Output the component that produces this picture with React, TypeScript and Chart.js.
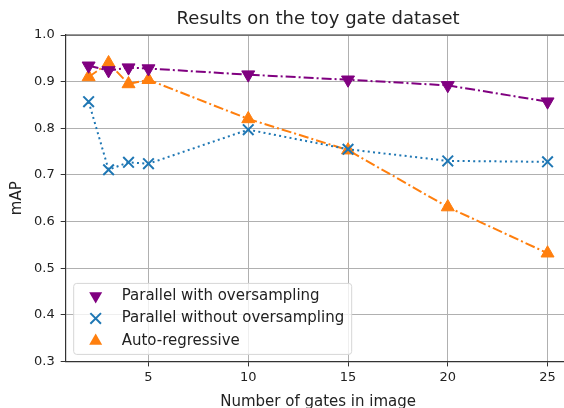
import React, { useEffect, useRef } from "react";
import { Chart, registerables } from "chart.js";

Chart.register(...registerables);

const gates = [2, 3, 4, 5, 10, 15, 20, 25];
const parallelWith = [0.934, 0.924, 0.930, 0.928, 0.915, 0.904, 0.892, 0.857];
const parallelWithout = [0.857, 0.711, 0.727, 0.724, 0.797, 0.755, 0.730, 0.728];
const autoRegressive = [0.910, 0.940, 0.895, 0.904, 0.820, 0.753, 0.631, 0.532];
const xTicks = [5, 10, 15, 20, 25];
const seriesNames = ["Parallel with oversampling", "Parallel without oversampling", "Auto-regressive"];
const chartTitle = "Results on the toy gate dataset";

const FONT = "'DejaVu Sans', sans-serif";
const TXT = "#222222";

function drawMarker(ctx: CanvasRenderingContext2D, style: string, rot: number, r: number, color: string, cx: number, cy: number) {
  ctx.save();
  ctx.fillStyle = color;
  ctx.strokeStyle = color;
  if (style === "triangle") {
    const base = (rot * Math.PI) / 180 - Math.PI / 2;
    ctx.beginPath();
    for (let k = 0; k < 3; k++) {
      const a = base + (k * 2 * Math.PI) / 3;
      const px = cx + Math.cos(a) * r;
      const py = cy + Math.sin(a) * r;
      if (k === 0) ctx.moveTo(px, py);
      else ctx.lineTo(px, py);
    }
    ctx.closePath();
    ctx.fill();
  } else {
    const d = r * 0.707;
    ctx.lineWidth = 2;
    ctx.beginPath();
    ctx.moveTo(cx - d, cy - d);
    ctx.lineTo(cx + d, cy + d);
    ctx.moveTo(cx - d, cy + d);
    ctx.lineTo(cx + d, cy - d);
    ctx.stroke();
  }
  ctx.restore();
}

const framePlugin = {
  id: "frameAndTitle",
  afterDraw(chart: any) {
    const ctx = chart.ctx;
    const a = chart.chartArea;
    ctx.save();
    ctx.strokeStyle = "#333333";
    ctx.lineWidth = 1.2;
    ctx.beginPath();
    ctx.moveTo(a.left, a.top);
    ctx.lineTo(a.right, a.top);
    ctx.stroke();
    ctx.fillStyle = TXT;
    ctx.font = "18px " + FONT;
    ctx.textAlign = "center";
    ctx.textBaseline = "middle";
    ctx.fillText(chartTitle, (a.left + a.right) / 2, a.top - 16);
    ctx.restore();
  },
};

const legendPlugin = {
  id: "innerLegend",
  afterDraw(chart: any) {
    const ctx = chart.ctx;
    const area = chart.chartArea;
    const x0 = area.left + 8;
    const y0 = area.bottom - 78;
    const w = 278;
    const h = 71;
    ctx.save();
    ctx.fillStyle = "rgba(255,255,255,0.8)";
    ctx.strokeStyle = "#d6d6d6";
    ctx.lineWidth = 1;
    ctx.beginPath();
    const r = 3;
    ctx.moveTo(x0 + r, y0);
    ctx.arcTo(x0 + w, y0, x0 + w, y0 + h, r);
    ctx.arcTo(x0 + w, y0 + h, x0, y0 + h, r);
    ctx.arcTo(x0, y0 + h, x0, y0, r);
    ctx.arcTo(x0, y0, x0 + w, y0, r);
    ctx.closePath();
    ctx.fill();
    ctx.stroke();
    chart.data.datasets.forEach((ds: any, i: number) => {
      const cy = y0 + 12.5 + i * 22.5;
      const cx = x0 + 22;
      drawMarker(ctx, ds.pointStyle === "triangle" ? "triangle" : "cross", ds.pointRotation || 0, ds.pointRadius, ds.pointBackgroundColor, cx, cy);
      ctx.fillStyle = TXT;
      ctx.font = "15px " + FONT;
      ctx.textBaseline = "middle";
      ctx.textAlign = "left";
      ctx.fillText(seriesNames[i], x0 + 48, cy);
    });
    ctx.restore();
  },
};

export default function App() {
  const ref = useRef<HTMLCanvasElement>(null);
  useEffect(() => {
    if (!ref.current) return;
    const mk = (data: number[]) => gates.map((g, i) => ({ x: g, y: data[i] }));
    const chart = new Chart(ref.current, {
      type: "line",
      data: {
        datasets: [
          {
            label: seriesNames[0],
            data: mk(parallelWith),
            borderColor: "#800080",
            backgroundColor: "#800080",
            borderWidth: 2,
            borderDash: [10, 3, 2, 3],
            pointStyle: "triangle",
            pointRotation: 180,
            pointRadius: 7.5,
            pointBackgroundColor: "#800080",
            pointBorderColor: "#800080",
            pointBorderWidth: 1,
          },
          {
            label: seriesNames[1],
            data: mk(parallelWithout),
            borderColor: "#1f77b4",
            backgroundColor: "#1f77b4",
            borderWidth: 2,
            borderDash: [2, 3.3],
            pointStyle: "crossRot",
            pointRadius: 7.5,
            pointBackgroundColor: "#1f77b4",
            pointBorderColor: "#1f77b4",
            pointBorderWidth: 2,
          },
          {
            label: seriesNames[2],
            data: mk(autoRegressive),
            borderColor: "#ff7f0e",
            backgroundColor: "#ff7f0e",
            borderWidth: 2,
            borderDash: [10, 3, 2, 3],
            pointStyle: "triangle",
            pointRadius: 7.5,
            pointBackgroundColor: "#ff7f0e",
            pointBorderColor: "#ff7f0e",
            pointBorderWidth: 1,
          },
        ],
      },
      options: {
        responsive: false,
        animation: false,
        layout: { padding: { left: 8, right: 0, top: 35, bottom: 3 } },
        plugins: {
          legend: { display: false },
          tooltip: { enabled: false },
          title: { display: false },
        },
        scales: {
          x: {
            type: "linear",
            min: 0.85,
            max: 26.15,
            afterBuildTicks: (axis: any) => {
              axis.ticks = xTicks.map((v) => ({ value: v }));
            },
            ticks: { color: TXT, font: { family: FONT, size: 13 }, maxRotation: 0, padding: 3 },
            grid: { color: "#b0b0b0", lineWidth: 1, tickLength: 5, tickColor: "#333333" },
            border: { color: "#333333", width: 1.2 },
            title: {
              display: true,
              text: "Number of gates in image",
              color: TXT,
              font: { family: FONT, size: 15 },
              padding: { top: 5, bottom: 0 },
            },
          },
          y: {
            min: 0.3,
            max: 1.0,
            ticks: {
              stepSize: 0.1,
              color: TXT,
              font: { family: FONT, size: 13 },
              padding: 6,
              callback: (v: any) => Number(v).toFixed(1),
            },
            grid: { color: "#b0b0b0", lineWidth: 1, tickLength: 5, tickColor: "#333333" },
            border: { color: "#333333", width: 1.2 },
            title: {
              display: true,
              text: "mAP",
              color: TXT,
              font: { family: FONT, size: 15 },
              padding: { top: 0, bottom: 2 },
            },
          },
        },
      },
      plugins: [legendPlugin, framePlugin],
    } as any);
    return () => chart.destroy();
  }, []);
  return (
    <div style={{ position: "fixed", left: 0, top: 0, width: 564, height: 408, overflow: "hidden", background: "#fff" }}>
      <canvas ref={ref} width={580} height={414} style={{ display: "block" }} />
    </div>
  );
}
